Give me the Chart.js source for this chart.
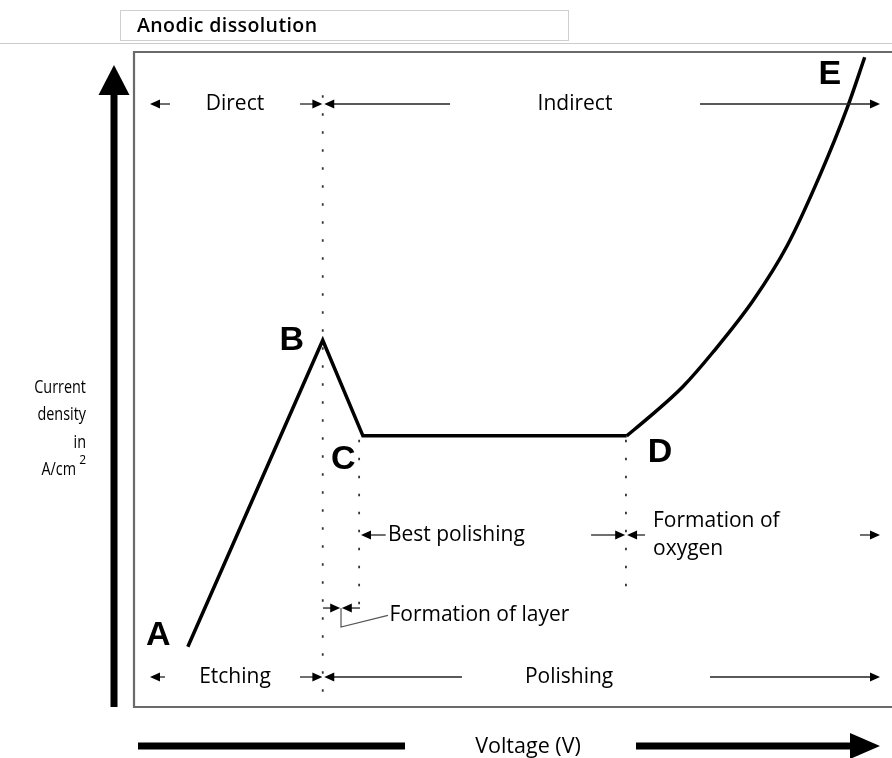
<!DOCTYPE html>
<html>
<head>
<meta charset="utf-8">
<script src="https://cdn.jsdelivr.net/npm/chart.js@4.4.0/dist/chart.umd.min.js"></script>
<style>
html,body{margin:0;padding:0;background:#fff;}
#wrap{width:892px;height:758px;position:relative;}
</style>
</head>
<body>
<div id="wrap"><canvas id="c" width="892" height="758"></canvas></div>
<script>
// ---- data (arbitrary units: voltage 0-100, current density 0-100) ----
const polarVoltage = [7.1, 24.9, 30.2, 65.0];          // A, B, C, D
const polarCurrent = [9.2, 56.0, 41.4, 41.4];
const rampVoltage = [65.0, 67.8, 72.4, 76.4, 81.7, 86.2, 90.5, 94.1, 96.4]; // D ... E
const rampCurrent = [41.4, 44.1, 48.9, 54.2, 62.1, 70.5, 81.2, 91.5, 99.2];
const pointLabels = ['A', 'B', 'C', 'D', 'E'];
const boundaryVoltage = [24.9, 29.7, 64.9];            // B, C, D transitions
const titleText = 'Anodic dissolution';
const xTitle = 'Voltage (V)';
const yTitleLines = ['Current', 'density', 'in', 'A/cm'];

// annotation layout (in data units)
const letterPos = [[3.2, 10.9], [20.8, 56.0], [27.6, 37.7], [69.4, 38.9], [91.8, 96.5]];

const FONT = '"Open Sans", "DejaVu Sans", sans-serif';

function arrow(ctx, x1, y, x2) {
  const dir = x2 > x1 ? 1 : -1;
  ctx.beginPath();
  ctx.moveTo(x1, y);
  ctx.lineTo(x2 - dir * 6, y);
  ctx.stroke();
  ctx.beginPath();
  ctx.moveTo(x2, y);
  ctx.lineTo(x2 - dir * 10, y - 4.5);
  ctx.lineTo(x2 - dir * 10, y + 4.5);
  ctx.closePath();
  ctx.fill();
}

const decor = {
  id: 'decor',
  beforeDraw(chart) {
    const ctx = chart.ctx, a = chart.chartArea;
    ctx.save();
    ctx.fillStyle = '#fff';
    ctx.fillRect(0, 0, chart.width, chart.height);
    // title box
    ctx.strokeStyle = '#cfcfcf';
    ctx.lineWidth = 1;
    ctx.strokeRect(120.5, 10.5, 448, 30);
    ctx.fillStyle = '#000';
    ctx.font = '600 19.5px ' + FONT;
    ctx.letterSpacing = '0.4px';
    ctx.textBaseline = 'middle';
    ctx.textAlign = 'left';
    ctx.fillText(titleText, 137, 26);
    ctx.letterSpacing = '0px';
    // gray separator
    ctx.beginPath();
    ctx.strokeStyle = '#cccccc';
    ctx.moveTo(0, 43.5); ctx.lineTo(chart.width, 43.5); ctx.stroke();
    // plot frame (left, top, bottom)
    ctx.strokeStyle = '#6a6a6a';
    ctx.lineWidth = 2.2;
    ctx.beginPath();
    ctx.moveTo(chart.width + 5, a.top);
    ctx.lineTo(a.left, a.top);
    ctx.lineTo(a.left, a.bottom);
    ctx.lineTo(chart.width + 5, a.bottom);
    ctx.stroke();
    ctx.restore();
  },
  afterDraw(chart) {
    const ctx = chart.ctx, a = chart.chartArea;
    const X = v => chart.scales.x.getPixelForValue(v);
    const Y = v => chart.scales.y.getPixelForValue(v);
    ctx.save();
    // dotted transition lines
    ctx.strokeStyle = '#333';
    ctx.lineWidth = 1.8;
    ctx.setLineDash([2.5, 15.5]);
    [[boundaryVoltage[0], 93.4, 0.3], [boundaryVoltage[1], 40.8, 14.5], [boundaryVoltage[2], 40.8, 17.9]]
      .forEach(([v, y1, y2]) => {
        ctx.beginPath();
        ctx.moveTo(X(v), Y(y1));
        ctx.lineTo(X(v), Y(y2));
        ctx.stroke();
      });
    ctx.setLineDash([]);

    // point letters
    ctx.fillStyle = '#000';
    ctx.font = 'bold 34px "Liberation Sans", Arial, sans-serif';
    ctx.textAlign = 'center';
    ctx.textBaseline = 'middle';
    pointLabels.forEach((t, i) => ctx.fillText(t, X(letterPos[i][0]), Y(letterPos[i][1])));

    // region arrows
    ctx.strokeStyle = '#222';
    ctx.fillStyle = '#000';
    ctx.lineWidth = 1.3;
    const rows = [
      { y: 92.06, segs: [[4.75, 2.11], [21.9, 24.85], [41.69, 25.1], [74.67, 98.42]],
        texts: [['Direct', 13.32, 'center'], ['Indirect', 58.18, 'center']] },
      { y: 4.58, segs: [[4.09, 2.11], [21.9, 24.85], [43.27, 25.1], [75.99, 98.42]],
        texts: [['Etching', 13.32, 'center'], ['Polishing', 57.4, 'center']] },
      { y: 26.26, segs: [[33.2, 29.95], [60.3, 64.8], [67.41, 65.05], [95.78, 98.42]],
        texts: [['Best polishing', 33.5, 'left']] },
      { y: 15.11, segs: [[24.93, 27.2], [29.82, 27.42]], texts: [] }
    ];
    ctx.font = '21px ' + FONT;
    rows.forEach(r => {
      r.segs.forEach(s => arrow(ctx, X(s[0]), Y(r.y), X(s[1])));
      r.texts.forEach(t => {
        ctx.textAlign = t[2];
        ctx.fillText(t[0], X(t[1]), Y(r.y));
      });
    });
    ctx.textAlign = 'left';
    ctx.fillText('Formation of', X(68.47), Y(28.4));
    ctx.fillText('oxygen', X(68.47), Y(24.12));
    // formation of layer leader
    ctx.strokeStyle = '#555';
    ctx.lineWidth = 1.2;
    ctx.beginPath();
    ctx.moveTo(X(27.31), Y(15.11));
    ctx.lineTo(X(27.31), Y(12.21));
    ctx.lineTo(X(33.5), Y(14.0));
    ctx.stroke();
    ctx.fillText('Formation of layer', X(33.7), Y(14.0));

    // axis arrows
    const ax = a.left - 20;
    ctx.fillStyle = '#000';
    ctx.fillRect(ax - 3.5, a.top + 40, 7, a.bottom - a.top - 40);
    ctx.beginPath();
    ctx.moveTo(ax, a.top + 13);
    ctx.lineTo(ax - 15.5, a.top + 43);
    ctx.lineTo(ax + 15.5, a.top + 43);
    ctx.closePath();
    ctx.fill();
    const by = a.bottom + 39;
    ctx.fillRect(138, by - 3.5, 267, 7);
    ctx.fillRect(636, by - 3.5, 216, 7);
    ctx.beginPath();
    ctx.moveTo(880, by);
    ctx.lineTo(850, by - 13);
    ctx.lineTo(850, by + 13);
    ctx.closePath();
    ctx.fill();
    ctx.font = '21.5px ' + FONT;
    ctx.textAlign = 'center';
    ctx.fillText(xTitle, 528, by + 1);

    // y title (narrow)
    ctx.font = '18px ' + FONT;
    ctx.textAlign = 'right';
    const yl = [388, 415, 443, 470];
    yTitleLines.forEach((t, i) => {
      const w = i === 3 ? 10 : 0;
      ctx.save();
      ctx.translate(86 - w, yl[i]);
      ctx.scale(0.8, 1);
      ctx.fillText(t, 0, 0);
      ctx.restore();
    });
    ctx.font = '12px ' + FONT;
    ctx.fillText('2', 86, 461);
    ctx.restore();
  }
};

new Chart(document.getElementById('c'), {
  type: 'line',
  data: {
    datasets: [
      {
        data: polarVoltage.map((v, i) => ({ x: v, y: polarCurrent[i] })),
        borderColor: '#000', borderWidth: 3.5, tension: 0, pointRadius: 0,
        borderJoinStyle: 'miter', borderCapStyle: 'butt'
      },
      {
        data: rampVoltage.map((v, i) => ({ x: v, y: rampCurrent[i] })),
        borderColor: '#000', borderWidth: 3.5, cubicInterpolationMode: 'monotone', pointRadius: 0
      }
    ]
  },
  options: {
    responsive: false,
    animation: false,
    devicePixelRatio: 1,
    layout: { padding: { left: 134, top: 52, right: 0, bottom: 51 } },
    plugins: { legend: { display: false }, tooltip: { enabled: false }, title: { display: false } },
    scales: {
      x: { type: 'linear', min: 0, max: 100, display: false },
      y: { type: 'linear', min: 0, max: 100, display: false }
    }
  },
  plugins: [decor]
});
</script>
</body>
</html>
